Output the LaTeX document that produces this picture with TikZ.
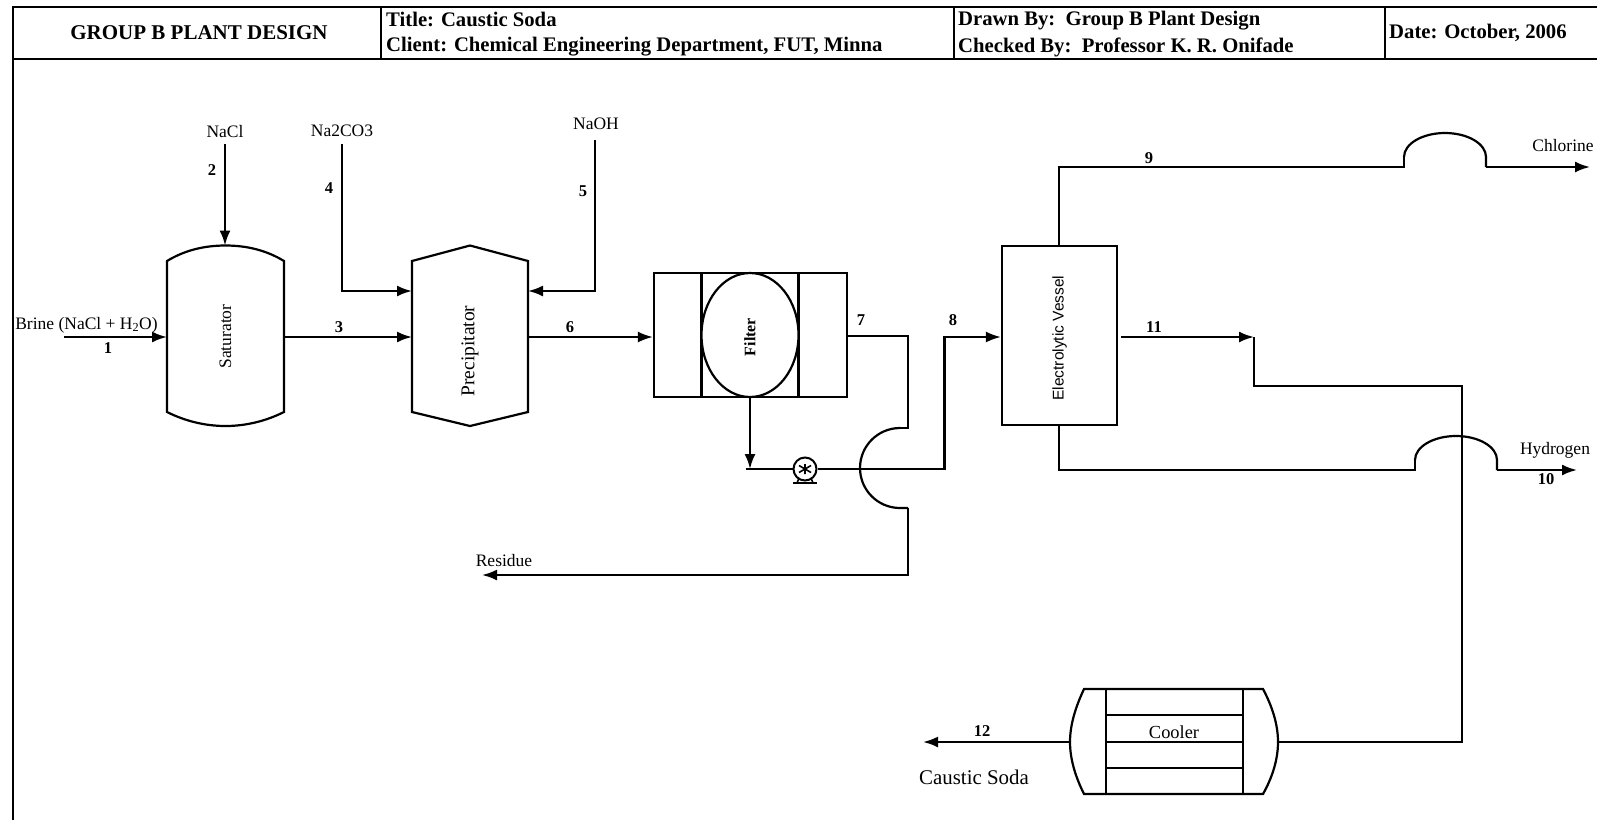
\documentclass[tikz,border=0pt]{standalone}
\usepackage{fontspec}
\setmainfont{Liberation Serif}
\newfontfamily\arialf{Liberation Sans}
\usetikzlibrary{arrows.meta,positioning,calc,shapes.geometric}
\tikzset{
  frameline/.style={line width=2.6pt,black},
  equip/.style={line width=2.2pt,black,fill=white},
  flow/.style={line width=2.2pt,black},
  flowa/.style={flow,-{Latex[length=15pt,width=11pt]}},
  lab/.style={font=\fontsize{16.5}{19}\selectfont\bfseries,inner sep=0pt},
  stream/.style={font=\fontsize{17.5}{20}\selectfont,inner sep=0pt},
  head/.style={font=\fontsize{20.7}{23}\selectfont\bfseries,inner sep=0pt,anchor=west},
  vess/.style={font=\fontsize{17.5}{20}\selectfont,inner sep=0pt,rotate=90},
  box/.style={draw,line width=2.2pt,fill=white,inner sep=0pt}
}
\begin{document}
\begin{tikzpicture}[x=1pt,y=-1pt]
\useasboundingbox (0,0) rectangle (1597,820);
% frame
\coordinate (tl) at (13,7); \coordinate (tr) at (1597,7);
\coordinate (ml) at (13,59); \coordinate (mr) at (1597,59);
\coordinate (bl) at (13,820);
\draw[frameline] (bl) -- (tl) -- (tr);
\draw[frameline] (ml) -- (mr);
\foreach \i/\x in {a/381,b/954,c/1385}{
  \coordinate (t\i) at (\x,7); \coordinate (b\i) at (\x,59);
  \draw[line width=1.8pt] (t\i) -- (b\i);
}
\node[font=\fontsize{21}{23}\selectfont\bfseries,inner sep=0pt] (h1) at (199,33) {GROUP B PLANT DESIGN};
\node[head] (h2) at (386,19.5) {Title: Caustic Soda};
\node[head] (h3) at (386,47) {Client: Chemical Engineering Department, FUT, Minna};
\node[head] (h4) at (958,20.5) {Drawn By:\ \ Group B Plant Design};
\node[head] (h5) at (958,47) {Checked By:\ \ Professor K. R. Onifade};
\node[head] (h6) at (1389,33) {Date: October, 2006};
% free ends
\coordinate (brine) at (64,337);
\coordinate (nacl) at (225,144);
\coordinate (soda) at (342,144);
\coordinate (naoh) at (595,140);
\coordinate (sodab) at (342,291);
\coordinate (naohb) at (595,291);
% saturator
\draw[equip] (167,261) .. controls (185,250) and (205,245.5) .. (225.5,245.5)
  .. controls (246,245.5) and (266,250) .. (284,261) -- (284,412)
  .. controls (266,421) and (246,426) .. (225.5,426)
  .. controls (205,426) and (185,421) .. (167,412) -- cycle;
\node[vess] (sat) at (225.5,336.5) {Saturator};
% precipitator
\draw[equip] (412,261) -- (470,245.5) -- (528,261) -- (528,412) -- (470,426) -- (412,412) -- cycle;
\node[vess,font=\fontsize{19.5}{22}\selectfont] (pre) at (470,351) {Precipitator};
% filter
\node[box,minimum width=193pt,minimum height=124pt] (filt) at (750.5,335) {};
\draw[equip] (701.5,273) -- (701.5,397) (798.5,273) -- (798.5,397);
\node[draw,line width=2.2pt,fill=white,ellipse,minimum width=97pt,minimum height=124pt,inner sep=0pt] (ell) at (750,335) {};
\node[vess,font=\fontsize{16}{18}\selectfont\bfseries] (ftx) at (750,337) {Filter};
% electrolytic vessel
\node[box,minimum width=115pt,minimum height=179pt] (elec) at (1059.5,335.5) {};
\node[vess,font=\fontsize{15.5}{17}\selectfont\arialf] (etx) at (1059.5,338) {Electrolytic Vessel};
% cooler
\draw[equip] (1084,689) -- (1263,689) .. controls (1272,706) and (1278,724) .. (1278,742)
  .. controls (1278,760) and (1272,778) .. (1263,794) -- (1084,794)
  .. controls (1076,778) and (1070,760) .. (1070,742)
  .. controls (1070,724) and (1076,706) .. (1084,689) -- cycle;
\draw[line width=2.2pt] (1106,689) -- (1106,794) (1243,689) -- (1243,794);
\draw[line width=2pt] (1106,715) -- (1243,715) (1106,742) -- (1243,742) (1106,768) -- (1243,768);
\node[font=\fontsize{18.4}{20}\selectfont,inner sep=0pt] (ctx) at (1174,732) {Cooler};
% connectors
\draw[flowa] (brine) -- (167,337);
\draw[flowa] (nacl) -- (225,245.5);
\draw[flowa] (284,337) -- (412,337);
\draw[flowa] (soda) -- (sodab) -- (412,291);
\draw[flowa] (naoh) -- (naohb) -- (528,291);
\draw[flowa] (528,337) -- (filt.west |- 0,337);
% stream 7 with jump and residue
\coordinate (j1) at (908,428); \coordinate (j2) at (908,508);
\coordinate (res) at (482,575);
\draw[flow] (filt.east |- 0,336) -- (908,336) -- (j1) -- (900,428);
\draw[flow] (900,428) arc[start angle=-90,end angle=-270,radius=40] -- (j2);
\draw[flowa] (j2) -- (908,575) -- (res);
% filter to pump line
\coordinate (pl) at (746,469);
\draw[flowa] (ell.south) -- (ell.south |- pl);
\node[circle,draw,line width=2pt,fill=white,minimum size=23pt,inner sep=0pt] (pump) at (805,469) {};
\draw[flow,line width=1.8pt] (pl) -- (pump.west);
\draw[flowa] (pump.east) -- (944.5,469) -- (944.5,337) -- (elec.west |- 0,337);
\draw[line width=1.6pt] (pump.center) +(-6,-3.5) -- +(6,3.5) +(-6,3.5) -- +(6,-3.5) +(0,-5) -- +(0,5);
\draw[line width=2.6pt] (793,483) -- (817,483);
\draw[line width=1.6pt] (797,483) -- (799,478) (813,483) -- (811,478);
% stream 9
\coordinate (c1) at (1404,167); \coordinate (c2) at (1486,167); \coordinate (chl) at (1590,167);
\draw[flow] (elec.north -| 1059,0) -- (1059,167) -- (c1) -- (1404,157);
\draw[flow] (1404,157) arc[start angle=180,end angle=360,x radius=41,y radius=24] -- (c2);
\draw[flowa] (c2) -- (chl);
% stream 10
\coordinate (d1) at (1415,470); \coordinate (d2) at (1497,470); \coordinate (hyd) at (1577,470);
\draw[flow] (elec.south -| 1059,0) -- (1059,470) -- (d1) -- (1415,460);
\draw[flow] (1415,460) arc[start angle=180,end angle=360,x radius=41,y radius=24] -- (d2);
\draw[flowa] (d2) -- (hyd);
% stream 11
\coordinate (e1) at (1121,337); \coordinate (e2) at (1254,337);
\coordinate (e3) at (1254,386); \coordinate (e4) at (1462,386); \coordinate (e5) at (1462,742);
\draw[flowa] (e1) -- (e2);
\draw[flow] (e2) -- (e3) -- (e4) -- (e5) -- (1278,742);
\draw[flowa] (1070,742) -- (923,742);
% labels
\node[stream] (lnacl) at (225,132) {NaCl};
\node[stream] (lsoda) at (342,131) {Na2CO3};
\node[stream] (lnaoh) at (596,124) {NaOH};
\node[stream] (lbr) at (86.5,325) {Brine (NaCl + H\textsubscript{2}O)};
\node[lab] (n1) at (108,348) {1};
\node[lab] (n2) at (212,170) {2};
\node[lab] (n3) at (339,327) {3};
\node[lab] (n4) at (329,188) {4};
\node[lab] (n5) at (583,191) {5};
\node[lab] (n6) at (570,327) {6};
\node[lab] (n7) at (861,320) {7};
\node[lab] (n8) at (953,320) {8};
\node[lab] (n9) at (1149,158) {9};
\node[lab] (n10) at (1546,479) {10};
\node[lab] (n11) at (1154,327) {11};
\node[lab] (n12) at (982,731) {12};
\node[stream] (lres) at (504,561) {Residue};
\node[stream] (lchl) at (1563,146) {Chlorine};
\node[stream] (lhyd) at (1555,450) {Hydrogen};
\node[font=\fontsize{20.9}{23}\selectfont,inner sep=0pt] (lcs) at (974,777) {Caustic Soda};
\end{tikzpicture}
\end{document}
